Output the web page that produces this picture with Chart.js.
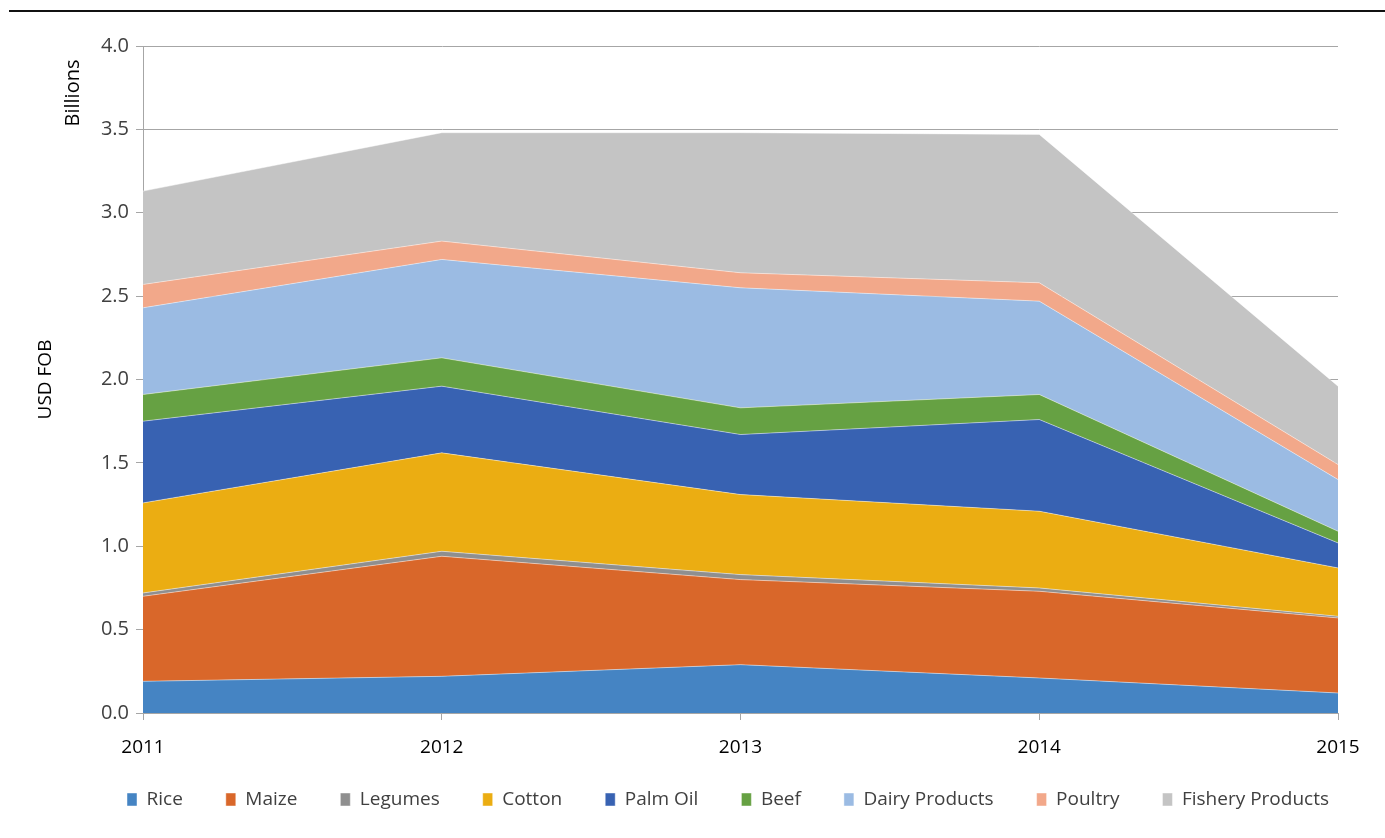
<!DOCTYPE html>
<html>
<head>
<meta charset="utf-8">
<script src="https://cdn.jsdelivr.net/npm/chart.js@4"></script>
<style>
	html, body { margin: 0; padding: 0; background: #fff; }
	#wrap { position: relative; width: 1385px; height: 838px; }
	#rule { position: absolute; top: 10px; left: 9px; right: 0; height: 2px; background: #111; }
	#areaChart { position: absolute; left: 0; top: 0; }
</style>
</head>
<body>
<div id="wrap">
	<div id="rule"></div>
	<canvas id="areaChart" width="1385" height="838"></canvas>
</div>
<script>
let years = ["2011", "2012", "2013", "2014", "2015"];

// values in billions USD FOB
let rice = [0.19, 0.22, 0.29, 0.21, 0.12];
let maize = [0.51, 0.72, 0.51, 0.52, 0.45];
let legumes = [0.02, 0.03, 0.03, 0.02, 0.01];
let cotton = [0.54, 0.59, 0.48, 0.46, 0.29];
let palmOil = [0.49, 0.40, 0.36, 0.55, 0.15];
let beef = [0.16, 0.17, 0.16, 0.15, 0.07];
let dairy = [0.52, 0.59, 0.72, 0.56, 0.31];
let poultry = [0.14, 0.11, 0.09, 0.11, 0.09];
let fishery = [0.56, 0.65, 0.84, 0.89, 0.47];

let yTicks = [0, 0.5, 1, 1.5, 2, 2.5, 3, 3.5, 4];

const fontFamily = "'Open Sans', 'Liberation Sans', sans-serif";
const textColor = "#404040";

const makeSet = (label, data, color, fill) => ({
	label: label,
	data: data,
	backgroundColor: color,
	borderColor: "rgba(255,255,255,0.45)",
	borderWidth: 1,
	pointRadius: 0,
	pointHoverRadius: 0,
	tension: 0,
	fill: fill,
});

let areaData = {
	labels: years,
	datasets: [
		makeSet("Rice", rice, "#4584c3", "origin"),
		makeSet("Maize", maize, "#d9672a", "-1"),
		makeSet("Legumes", legumes, "#8f8f8f", "-1"),
		makeSet("Cotton", cotton, "#ebad12", "-1"),
		makeSet("Palm Oil", palmOil, "#3862b2", "-1"),
		makeSet("Beef", beef, "#66a143", "-1"),
		makeSet("Dairy Products", dairy, "#9bbbe3", "-1"),
		makeSet("Poultry", poultry, "#f2a88a", "-1"),
		makeSet("Fishery Products", fishery, "#c4c4c4", "-1"),
	],
};

// "Billions" sits at the top of the value axis
const billionsLabel = {
	id: "billionsLabel",
	afterDraw(chart) {
		const c = chart.ctx;
		const top = chart.chartArea.top;
		c.save();
		c.translate(73, top + 47);
		c.rotate(-Math.PI / 2);
		c.font = "20px " + fontFamily;
		c.fillStyle = "#000";
		c.textAlign = "center";
		c.textBaseline = "middle";
		c.fillText("Billions", 0, 0);
		c.restore();
	},
};

// legend in the original sits a bit right of centre and close under the axis
const legendShift = {
	id: "legendShift",
	afterLayout(chart) {
		const lg = chart.legend;
		if (!lg) return;
		lg.left += 54;
		lg.right += 54;
		lg.top -= 12;
		lg.bottom -= 12;
	},
};

let chartOptions = {
	responsive: false,
	animation: false,
	layout: {
		padding: { top: 46, left: 10, right: 47, bottom: 7 },
	},
	scales: {
		x: {
			offset: false,
			afterFit(scale) {
				scale.height = 46;
			},
			grid: {
				display: true,
				drawOnChartArea: false,
				drawTicks: true,
				tickLength: 7,
				color: "#a6a6a6",
			},
			border: { display: true, color: "#a6a6a6" },
			ticks: {
				padding: 16,
				color: "#000",
				font: { family: fontFamily, size: 19 },
				maxRotation: 0,
			},
		},
		y: {
			stacked: true,
			min: 0,
			max: 4,
			afterBuildTicks(scale) {
				scale.ticks = yTicks.map((v) => ({ value: v }));
			},
			afterFit(scale) {
				scale.width = 133;
			},
			grid: {
				color: "#a6a6a6",
				tickLength: 7,
			},
			border: { display: true, color: "#a6a6a6" },
			ticks: {
				padding: 7,
				color: textColor,
				font: { family: fontFamily, size: 20 },
				callback: (v) => Number(v).toFixed(1),
			},
			title: {
				display: true,
				text: "USD FOB",
				color: "#000",
				font: { family: fontFamily, size: 19 },
				padding: { top: 24, bottom: 0 },
			},
		},
	},
	plugins: {
		tooltip: { enabled: false },
		legend: {
			display: true,
			position: "bottom",
			labels: {
				boxWidth: 10,
				boxHeight: 13,
				padding: 43,
				color: textColor,
				font: { family: fontFamily, size: 19 },
			},
		},
	},
};

let areaChart = new Chart(document.getElementById("areaChart"), {
	type: "line",
	data: areaData,
	options: chartOptions,
	plugins: [billionsLabel, legendShift],
});
</script>
</body>
</html>
